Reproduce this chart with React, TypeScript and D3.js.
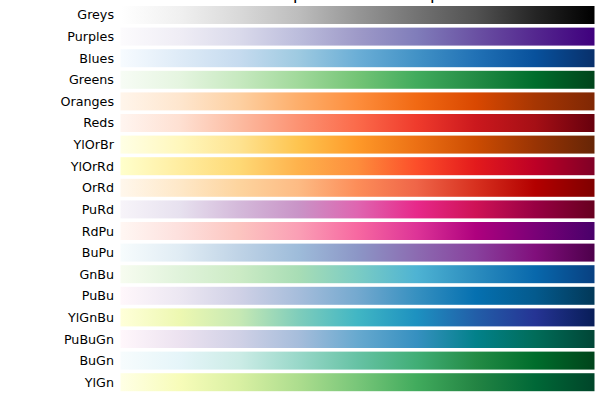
import React from "react";
import * as d3 from "d3";

const WIDTH = 600;
const HEIGHT = 400;

const title = "Sequential colormaps";

const cmapNames = [
  "Greys", "Purples", "Blues", "Greens", "Oranges", "Reds",
  "YlOrBr", "YlOrRd", "OrRd", "PuRd", "RdPu", "BuPu",
  "GnBu", "PuBu", "YlGnBu", "PuBuGn", "BuGn", "YlGn",
];

const cmapColors: Record<string, readonly string[]> = {
  Greys: d3.schemeGreys[9],
  Purples: d3.schemePurples[9],
  Blues: d3.schemeBlues[9],
  Greens: d3.schemeGreens[9],
  Oranges: d3.schemeOranges[9],
  Reds: d3.schemeReds[9],
  YlOrBr: d3.schemeYlOrBr[9],
  YlOrRd: d3.schemeYlOrRd[9],
  OrRd: d3.schemeOrRd[9],
  PuRd: d3.schemePuRd[9],
  RdPu: d3.schemeRdPu[9],
  BuPu: d3.schemeBuPu[9],
  GnBu: d3.schemeGnBu[9],
  PuBu: d3.schemePuBu[9],
  YlGnBu: d3.schemeYlGnBu[9],
  PuBuGn: d3.schemePuBuGn[9],
  BuGn: d3.schemeBuGn[9],
  YlGn: d3.schemeYlGn[9],
};

export default function App() {
  const x0 = 120.5;
  const x1 = 594.5;
  const y = d3
    .scaleBand<string>()
    .domain(cmapNames)
    .range([6, 391.2])
    .paddingInner(0.167)
    .paddingOuter(0);
  const font = "'DejaVu Sans', sans-serif";

  return (
    <svg
      width={WIDTH}
      height={HEIGHT}
      style={{ position: "absolute", left: 0, top: 0, background: "#fff" }}
      fontFamily={font}
    >
      <defs>
        {cmapNames.map((name) => {
          const cols = cmapColors[name];
          return (
            <linearGradient key={name} id={`g-${name}`} x1="0" x2="1" y1="0" y2="0">
              {cols.map((c, i) => (
                <stop key={i} offset={i / (cols.length - 1)} stopColor={c} />
              ))}
            </linearGradient>
          );
        })}
      </defs>
      <rect x={0} y={0} width={WIDTH} height={HEIGHT} fill="#fff" />
      <text x={(x0 + x1) / 2} y={-1.5} textAnchor="middle" fontSize={17} fill="#000">
        {title}
      </text>
      {cmapNames.map((name) => (
        <g key={name}>
          <rect
            x={x0}
            y={y(name)}
            width={x1 - x0}
            height={y.bandwidth()}
            fill={`url(#g-${name})`}
          />
          <text
            x={x0 - 6.5}
            y={(y(name) as number) + y.bandwidth() / 2}
            textAnchor="end"
            dominantBaseline="central"
            fontSize={12.7}
            fill="#000"
          >
            {name}
          </text>
        </g>
      ))}
    </svg>
  );
}
